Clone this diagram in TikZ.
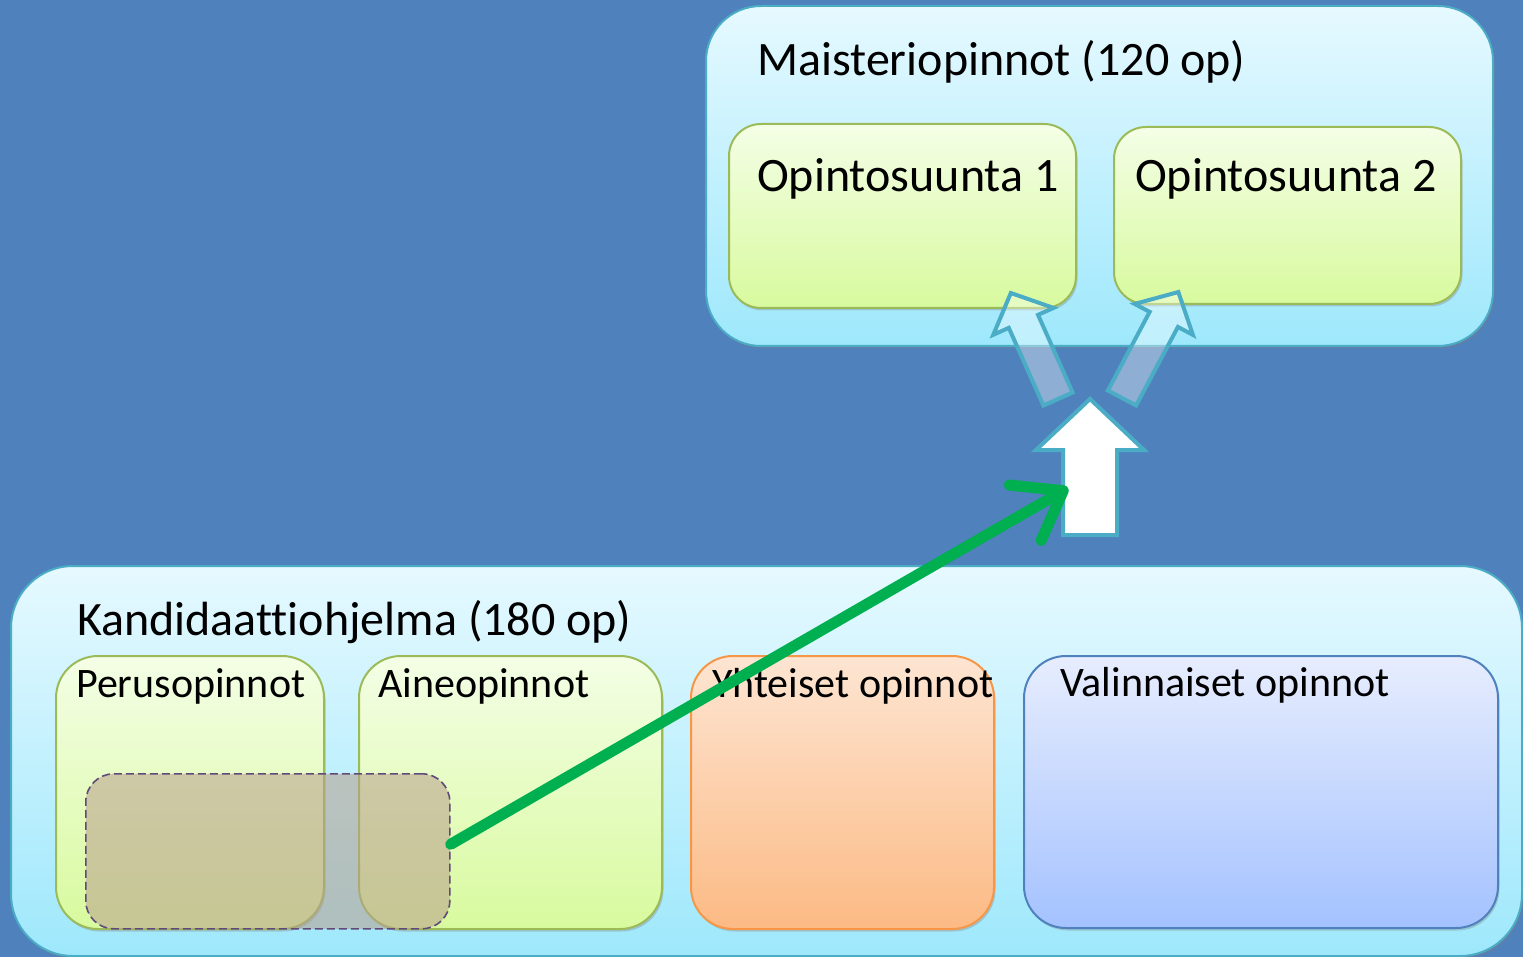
\documentclass[tikz,border=0pt]{standalone}
\usepackage{fontspec}
\setmainfont{Carlito}[Ligatures=NoCommon]
\usetikzlibrary{shapes,arrows.meta,shadows}

\definecolor{tausta}{RGB}{79,129,189}
\definecolor{syaani}{RGB}{75,172,198}
\definecolor{vihrea}{RGB}{155,187,89}
\definecolor{oranssi}{RGB}{247,150,70}
\definecolor{sininen}{RGB}{79,129,189}
\definecolor{nuoli}{RGB}{0,176,80}
\definecolor{violetti}{RGB}{96,74,123}

\begin{document}
\begin{tikzpicture}[x=1pt,y=-1pt]
\tikzstyle{laatikko}=[rectangle,anchor=north west,inner sep=0pt,line width=2pt,rounded corners=42pt,
  drop shadow={shadow xshift=1.5pt,shadow yshift=-2.5pt,opacity=0.35}]
\tikzstyle{ohjelma}=[laatikko,draw=syaani,top color={rgb,255:red,230;green,249;blue,255},
  bottom color={rgb,255:red,158;green,232;blue,252},rounded corners=55pt]
\tikzstyle{vihreat}=[laatikko,draw=vihrea,top color={rgb,255:red,244;green,254;blue,230},
  bottom color={rgb,255:red,216;green,250;blue,158}]
\tikzstyle{yhteiset}=[laatikko,draw=oranssi,top color={rgb,255:red,253;green,229;blue,210},
  bottom color={rgb,255:red,252;green,186;blue,132}]
\tikzstyle{valinnaiset}=[laatikko,draw=sininen,top color={rgb,255:red,231;green,237;blue,254},
  bottom color={rgb,255:red,164;green,194;blue,255}]
\tikzstyle{otsikko}=[anchor=base west,inner sep=0pt,font=\fontsize{48}{56}\selectfont]
\tikzstyle{nimi}=[anchor=base west,inner sep=0pt,font=\fontsize{42}{50}\selectfont]
\tikzstyle{lohko}=[draw=syaani,line width=4pt,line join=miter]
\tikzstyle{haamu}=[lohko,fill=white,fill opacity=0.36]
\tikzstyle{siirto}=[draw=nuoli,line width=11pt,line cap=round,
  -{Straight Barb[length=44pt,width=64pt,line cap=round,line join=round]}]

\fill[tausta] (0,0) rectangle (1523,957);
\useasboundingbox (0,0) rectangle (1523,957);

% maisteriopinnot
\node[ohjelma,minimum width=787pt,minimum height=340pt] (maisteri) at (705,5) {};
\node[otsikko] (maisteriotsikko) at (757,76) {Maisteriopinnot (120 op)};
\node[vihreat,rounded corners=32pt,minimum width=347pt,minimum height=184pt] (suunta1) at (728,123) {};
\node[vihreat,rounded corners=32pt,minimum width=347pt,minimum height=177pt] (suunta2) at (1113,126) {};
\node[otsikko] (suunta1teksti) at (757,192) {Opintosuunta 1};
\node[otsikko] (suunta2teksti) at (1135,192) {Opintosuunta 2};

% haarautuvat nuolet
\begin{scope}[shift={(1058,399)},rotate=114]
\draw[haamu] (0,-16) -- (85,-16) -- (85,-33) -- (116,0) -- (85,33) -- (85,16) -- (0,16) -- cycle;
\end{scope}
\begin{scope}[shift={(1122,398)},rotate=62]
\draw[haamu] (0,-16) -- (89,-16) -- (89,-33) -- (120,0) -- (89,33) -- (89,16) -- (0,16) -- cycle;
\end{scope}
\draw[lohko,fill=white] (1090,399) -- (1144,450) -- (1117,450) -- (1117,535) -- (1063,535)
  -- (1063,450) -- (1036,450) -- cycle;
\coordinate (kohde) at (1068,488);

% kandidaattiohjelma
\node[ohjelma,rounded corners=62pt,minimum width=1511pt,minimum height=390pt] (kandi) at (10,565) {};
\node[otsikko] (kandiotsikko) at (77,635) {Kandidaattiohjelma (180 op)};
\node[vihreat,minimum width=268pt,minimum height=273pt] (perus) at (55,655) {};
\node[vihreat,minimum width=303pt,minimum height=273pt] (aine) at (358,655) {};
\node[yhteiset,minimum width=303pt,minimum height=273pt] (yht) at (690,655) {};
\node[valinnaiset,minimum width=474pt,minimum height=272pt] (val) at (1023,655) {};
\node[nimi] (perusteksti) at (76,697) {Perusopinnot};
\node[nimi] (aineteksti) at (378,697) {Aineopinnot};
\node[nimi] (yhtteksti) at (712,697) {Yhteiset opinnot};
\node[nimi] (valteksti) at (1060,696) {Valinnaiset opinnot};

% valitut opinnot
\node[rectangle,anchor=north west,inner sep=0pt,rounded corners=28pt,minimum width=364pt,minimum height=155pt,
  draw=violetti,line width=1.6pt,dash pattern=on 8pt off 4pt,
  fill={rgb,255:red,184;green,158;blue,140},fill opacity=0.55] (valinta) at (85,773) {};

\draw[siirto] ([yshift=7pt]valinta.east) -- (kohde);
\end{tikzpicture}
\end{document}
